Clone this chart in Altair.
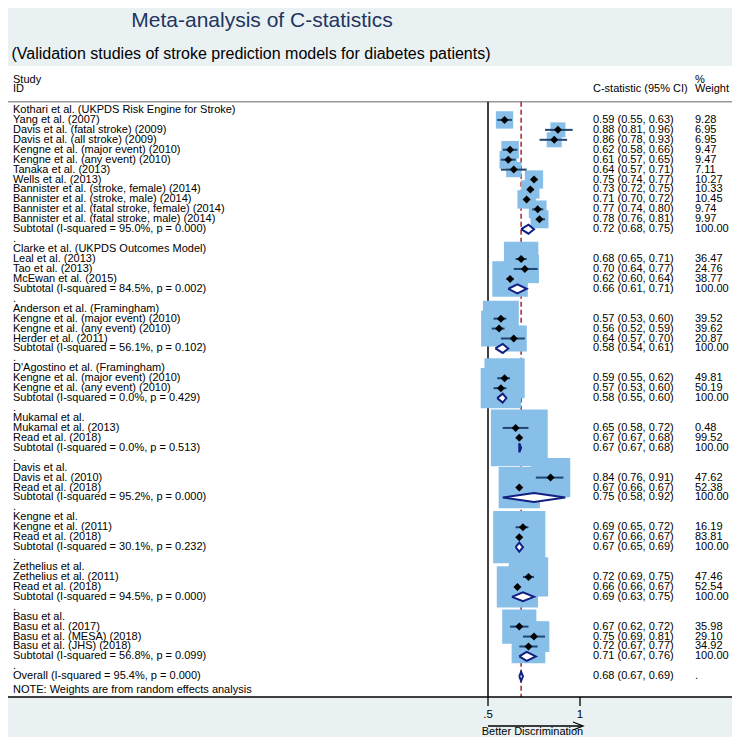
import altair as alt
import pandas as pd

# ---------------- data ----------------
title_text = "Meta-analysis of C-statistics"
subtitle_text = "(Validation studies of stroke prediction models  for diabetes patients)"

group_names = [
    "Kothari et al. (UKPDS Risk Engine for Stroke)",
    "Clarke et al. (UKPDS Outcomes Model)",
    "Anderson et al. (Framingham)",
    "D'Agostino et al. (Framingham)",
    "Mukamal et al.",
    "Davis et al.",
    "Kengne et al.",
    "Zethelius et al.",
    "Basu et al.",
]
group_isq = ["95.0%", "84.5%", "56.1%", "0.0%", "0.0%", "95.2%", "30.1%", "94.5%", "56.8%"]
group_p = ["0.000", "0.002", "0.102", "0.429", "0.513", "0.000", "0.232", "0.000", "0.099"]
sub_est = [0.72, 0.66, 0.58, 0.58, 0.67, 0.75, 0.67, 0.69, 0.71]
sub_lo = [0.68, 0.61, 0.54, 0.55, 0.67, 0.58, 0.65, 0.63, 0.67]
sub_hi = [0.75, 0.71, 0.61, 0.60, 0.68, 0.92, 0.69, 0.75, 0.76]

study_names = [
    "Yang et al.  (2007)",
    "Davis et al. (fatal stroke) (2009)",
    "Davis et al. (all stroke) (2009)",
    "Kengne et al. (major event) (2010)",
    "Kengne et al. (any event) (2010)",
    "Tanaka et al.   (2013)",
    "Wells et al.  (2013)",
    "Bannister et al. (stroke, female) (2014)",
    "Bannister et al. (stroke, male) (2014)",
    "Bannister et al. (fatal stroke, female) (2014)",
    "Bannister et al. (fatal stroke, male) (2014)",
    "Leal et al.  (2013)",
    "Tao et al.  (2013)",
    "McEwan et al.  (2015)",
    "Kengne et al.  (major event) (2010)",
    "Kengne et al. (any event) (2010)",
    "Herder et al.  (2011)",
    "Kengne et al.  (major event) (2010)",
    "Kengne et al.  (any event) (2010)",
    "Mukamal et al.  (2013)",
    "Read et al.  (2018)",
    "Davis et al. (2010)",
    "Read et al. (2018)",
    "Kengne et al. (2011)",
    "Read et al. (2018)",
    "Zethelius et al.  (2011)",
    "Read et al. (2018)",
    "Basu et al. (2017)",
    "Basu et al. (MESA) (2018)",
    "Basu et al. (JHS) (2018)",
]
study_group = [0] * 11 + [1] * 3 + [2] * 3 + [3] * 2 + [4] * 2 + [5] * 2 + [6] * 2 + [7] * 2 + [8] * 3
study_est = [0.59, 0.88, 0.86, 0.62, 0.61, 0.64, 0.75, 0.73, 0.71, 0.77, 0.78,
             0.68, 0.70, 0.62,
             0.57, 0.56, 0.64,
             0.59, 0.57,
             0.65, 0.67,
             0.84, 0.67,
             0.69, 0.67,
             0.72, 0.66,
             0.67, 0.75, 0.72]
study_lo = [0.55, 0.81, 0.78, 0.58, 0.57, 0.57, 0.74, 0.72, 0.70, 0.74, 0.76,
            0.65, 0.64, 0.60,
            0.53, 0.52, 0.57,
            0.55, 0.53,
            0.58, 0.67,
            0.76, 0.66,
            0.65, 0.66,
            0.69, 0.66,
            0.62, 0.69, 0.67]
study_hi = [0.63, 0.96, 0.93, 0.66, 0.65, 0.71, 0.77, 0.75, 0.72, 0.80, 0.81,
            0.71, 0.77, 0.64,
            0.60, 0.59, 0.70,
            0.62, 0.60,
            0.72, 0.68,
            0.91, 0.67,
            0.72, 0.67,
            0.75, 0.67,
            0.72, 0.81, 0.77]
study_wt = [9.28, 6.95, 6.95, 9.47, 9.47, 7.11, 10.27, 10.33, 10.45, 9.74, 9.97,
            36.47, 24.76, 38.77,
            39.52, 39.62, 20.87,
            49.81, 50.19,
            0.48, 99.52,
            47.62, 52.38,
            16.19, 83.81,
            47.46, 52.54,
            35.98, 29.10, 34.92]

overall_isq, overall_p = "95.4%", "0.000"
overall_est, overall_lo, overall_hi = 0.68, 0.67, 0.69
note_text = "NOTE: Weights are from random effects analysis"
null_value = 0.5
tick_values = [0.5, 1.0]
tick_labels = [".5", "1"]
axis_caption = "Better Discrimination"
header_left = ["Study", "ID"]
header_ci = "C-statistic (95% CI)"
header_wt = ["%", "Weight"]

# ---------------- table of rows ----------------
rows, diamonds = [], []
r = 0
for g, gname in enumerate(group_names):
    rows.append(dict(row=r, label=gname, kind="header"))
    r += 1
    for i, sname in enumerate(study_names):
        if study_group[i] != g:
            continue
        rows.append(dict(row=r, label=sname, kind="study", est=study_est[i], lo=study_lo[i],
                         hi=study_hi[i], wt=study_wt[i],
                         ci=f"{study_est[i]:.2f} ({study_lo[i]:.2f}, {study_hi[i]:.2f})",
                         wtxt=f"{study_wt[i]:.2f}"))
        r += 1
    rows.append(dict(row=r, label=f"Subtotal  (I-squared = {group_isq[g]}, p = {group_p[g]})",
                     kind="subtotal", est=sub_est[g], lo=sub_lo[g], hi=sub_hi[g],
                     ci=f"{sub_est[g]:.2f} ({sub_lo[g]:.2f}, {sub_hi[g]:.2f})", wtxt="100.00"))
    diamonds.append((g, sub_lo[g], sub_est[g], sub_hi[g], r))
    r += 1
    rows.append(dict(row=r, label=".", kind="blank"))
    r += 1
rows.append(dict(row=r, label=f"Overall  (I-squared = {overall_isq}, p = {overall_p})", kind="overall",
                 est=overall_est, lo=overall_lo, hi=overall_hi,
                 ci=f"{overall_est:.2f} ({overall_lo:.2f}, {overall_hi:.2f})", wtxt="."))
diamonds.append((99, overall_lo, overall_est, overall_hi, r))

df = pd.DataFrame(rows)
df_study = df[df.kind == "study"]

# closed diamond outlines: lo -> top -> hi -> bottom -> lo
H = 0.45
dia_rows = []
for gid, lo, est, hi, rr in diamonds:
    pts = [(lo, rr), (est, rr - H), (hi, rr), (est, rr + H), (lo, rr)]
    for k, (px, py) in enumerate(pts):
        dia_rows.append(dict(id=gid, cx=px, cy=py, o=k))
df_dia = pd.DataFrame(dia_rows)

# ---------------- layout ----------------
W, HT = 724, 729
PX_PER_UNIT = 184.0
X_NULL_PX = 480.0
ROW0_PX, ROW_STEP = 102.0, 9.935
xs = alt.Scale(domain=[0.5 - X_NULL_PX / PX_PER_UNIT, 0.5 + (W - X_NULL_PX) / PX_PER_UNIT],
               nice=False, zero=False)
ys = alt.Scale(domain=[-ROW0_PX / ROW_STEP, (HT - ROW0_PX) / ROW_STEP], reverse=True,
               nice=False, zero=False)

FONT = "Liberation Sans, Arial, Helvetica, sans-serif"
BG = "#e9f1f3"
BOX = "#88bfe9"
CI = "#1e4670"
NAVY = "#101f80"
RED = "#a8232e"

one = pd.DataFrame({"a": [0]})

panel = alt.Chart(one).mark_rect(color="white").encode(
    x=alt.value(0), x2=alt.value(W), y=alt.value(58), y2=alt.value(689))
hdr_line = alt.Chart(one).mark_rule(color="#9a9a9a", strokeWidth=1.5).encode(
    x=alt.value(0), x2=alt.value(W), y=alt.value(93.7))
axis_line = alt.Chart(one).mark_rule(color="black", strokeWidth=1.5).encode(
    x=alt.value(0), x2=alt.value(W), y=alt.value(689))

null_line = alt.Chart(pd.DataFrame({"v": [null_value]})).mark_rule(color="black", strokeWidth=1.5).encode(
    x=alt.X("v:Q", scale=xs, axis=None), y=alt.value(93.7), y2=alt.value(689))
ovr_line = alt.Chart(pd.DataFrame({"v": [overall_est]})).mark_rule(
    color=RED, strokeWidth=1.5, strokeDash=[5, 3]).encode(
    x=alt.X("v:Q", scale=xs, axis=None), y=alt.value(93.7), y2=alt.value(689))

boxes = alt.Chart(df_study).mark_square(color=BOX, opacity=1, filled=True).encode(
    x=alt.X("est:Q", scale=xs, axis=None),
    y=alt.Y("row:Q", scale=ys, axis=None),
    size=alt.Size("wt:Q", scale=alt.Scale(type="linear", domain=[0, 100], range=[0, 3250]), legend=None))
ci_lines = alt.Chart(df_study).mark_rule(color=CI, strokeWidth=2).encode(
    x=alt.X("lo:Q", scale=xs, axis=None), x2="hi:Q",
    y=alt.Y("row:Q", scale=ys, axis=None))
points = alt.Chart(df_study).mark_point(shape="diamond", filled=True, color="black", size=64, opacity=1).encode(
    x=alt.X("est:Q", scale=xs, axis=None),
    y=alt.Y("row:Q", scale=ys, axis=None))
dia = alt.Chart(df_dia).mark_line(stroke=NAVY, fill="white", strokeWidth=2, interpolate="linear",
                                  opacity=1, strokeJoin="miter").encode(
    x=alt.X("cx:Q", scale=xs, axis=None),
    y=alt.Y("cy:Q", scale=ys, axis=None),
    detail="id:N", order="o:Q")

txt = dict(fontSize=11, font=FONT, baseline="middle", align="left", color="black")
lab = alt.Chart(df).mark_text(**txt).encode(
    x=alt.value(5), y=alt.Y("row:Q", scale=ys, axis=None), text="label:N")
df_ci = df[df.ci.notna()]
ci_txt = alt.Chart(df_ci).mark_text(**txt).encode(
    x=alt.value(585), y=alt.Y("row:Q", scale=ys, axis=None), text="ci:N")
wt_txt = alt.Chart(df_ci).mark_text(**txt).encode(
    x=alt.value(687), y=alt.Y("row:Q", scale=ys, axis=None), text="wtxt:N")

h1 = alt.Chart(pd.DataFrame({"t": [header_left[0]]})).mark_text(**txt).encode(x=alt.value(5), y=alt.value(72), text="t:N")
h2 = alt.Chart(pd.DataFrame({"t": [header_left[1]]})).mark_text(**txt).encode(x=alt.value(5), y=alt.value(81.3), text="t:N")
h3 = alt.Chart(pd.DataFrame({"t": [header_ci]})).mark_text(**txt).encode(x=alt.value(585), y=alt.value(81.3), text="t:N")
h4 = alt.Chart(pd.DataFrame({"t": [header_wt[0]]})).mark_text(**txt).encode(x=alt.value(687), y=alt.value(72), text="t:N")
h5 = alt.Chart(pd.DataFrame({"t": [header_wt[1]]})).mark_text(**txt).encode(x=alt.value(687), y=alt.value(81.3), text="t:N")
note = alt.Chart(pd.DataFrame({"t": [note_text]})).mark_text(**txt).encode(x=alt.value(5), y=alt.value(682), text="t:N")

ticks = alt.Chart(pd.DataFrame({"v": tick_values, "l": tick_labels})).mark_rule(color="black", strokeWidth=1.3).encode(
    x=alt.X("v:Q", scale=xs, axis=None), y=alt.value(689), y2=alt.value(698))
tick_lab = alt.Chart(pd.DataFrame({"v": tick_values, "l": tick_labels})).mark_text(
    fontSize=11.5, font=FONT, baseline="middle", align="center").encode(
    x=alt.X("v:Q", scale=xs, axis=None), y=alt.value(707), text="l:N")
arrow = alt.Chart(one).mark_rule(color="black", strokeWidth=1.3).encode(
    x=alt.value(480), x2=alt.value(574), y=alt.value(718))
arrow_head = alt.Chart(one).mark_point(shape="M-2,-0.8L0,0L-2,0.8", filled=False, color="black",
                                       strokeWidth=1.3, size=100, opacity=1).encode(
    x=alt.value(575), y=alt.value(718))
cap = alt.Chart(pd.DataFrame({"t": [axis_caption]})).mark_text(
    fontSize=11, font=FONT, baseline="middle", align="center").encode(
    x=alt.value(524.5), y=alt.value(724), text="t:N")

title = alt.Chart(pd.DataFrame({"t": [title_text]})).mark_text(
    fontSize=21, font=FONT, baseline="alphabetic", align="center", color="#1f355e").encode(
    x=alt.value(254), y=alt.value(19), text="t:N")
subtitle = alt.Chart(pd.DataFrame({"t": [subtitle_text]})).mark_text(
    fontSize=16, font=FONT, baseline="alphabetic", align="center", color="black").encode(
    x=alt.value(243), y=alt.value(51), text="t:N")

chart = alt.layer(
    panel, hdr_line, ovr_line, null_line, boxes, ci_lines, points, dia,
    lab, ci_txt, wt_txt, h1, h2, h3, h4, h5, note,
    axis_line, ticks, tick_lab, arrow, arrow_head, cap, title, subtitle,
).properties(
    width=W, height=HT, autosize=alt.AutoSizeParams(type="none"), padding=0
).configure(background=BG).configure_view(stroke=None)

chart.save("out.html", embed_options={"renderer": "svg", "actions": False})
